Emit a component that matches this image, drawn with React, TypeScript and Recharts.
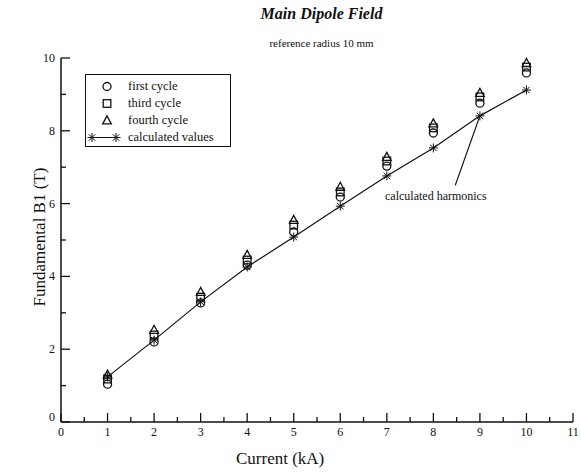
import {
  ComposedChart, Line, Scatter, XAxis, YAxis, Legend, ReferenceLine,
} from "recharts";

const currents = [1, 2, 3, 4, 5, 6, 7, 8, 9, 10];
const firstCycle = [1.04, 2.2, 3.27, 4.31, 5.22, 6.18, 7.03, 7.94, 8.76, 9.59];
const thirdCycle = [1.18, 2.39, 3.43, 4.45, 5.41, 6.32, 7.17, 8.08, 8.93, 9.75];
const fourthCycle = [1.3, 2.53, 3.57, 4.59, 5.55, 6.46, 7.28, 8.2, 9.04, 9.86];
const calculated = [1.24, 2.25, 3.3, 4.26, 5.08, 5.93, 6.76, 7.53, 8.41, 9.12];

const xTicks = [0, 0.5, 1, 1.5, 2, 2.5, 3, 3.5, 4, 4.5, 5, 5.5, 6, 6.5, 7, 7.5, 8, 8.5, 9, 9.5, 10, 10.5, 11];
const yTicks = [0, 1, 2, 3, 4, 5, 6, 7, 8, 9, 10];

const legendItems = [
  { key: "first", label: "first cycle" },
  { key: "third", label: "third cycle" },
  { key: "fourth", label: "fourth cycle" },
  { key: "calc", label: "calculated values" },
];

const W = 581;
const H = 474;
const PLOT_LEFT = 61;
const PLOT_BOTTOM = 422;
const FONT = "'Liberation Serif', 'DejaVu Serif', serif";
const INK = "#111";

const rows = currents.map((c, i) => ({
  current: c,
  first: firstCycle[i],
  third: thirdCycle[i],
  fourth: fourthCycle[i],
  calc: calculated[i],
}));

function circle(cx: number, cy: number) {
  return <circle cx={cx} cy={cy} r={4} fill="none" stroke={INK} strokeWidth={1.3} />;
}
function square(cx: number, cy: number) {
  return <rect x={cx - 3.8} y={cy - 3.8} width={7.6} height={7.6} fill="none" stroke={INK} strokeWidth={1.3} />;
}
function triangle(cx: number, cy: number) {
  return (
    <polygon points={`${cx},${cy - 4.6} ${cx - 4.3},${cy + 3.4} ${cx + 4.3},${cy + 3.4}`}
             fill="none" stroke={INK} strokeWidth={1.3} />
  );
}
function asterisk(cx: number, cy: number, r = 4.5) {
  const d = r * 0.72;
  return (
    <g stroke={INK} strokeWidth={1}>
      <line x1={cx - r} y1={cy} x2={cx + r} y2={cy} />
      <line x1={cx} y1={cy - r} x2={cx} y2={cy + r} />
      <line x1={cx - d} y1={cy - d} x2={cx + d} y2={cy + d} />
      <line x1={cx - d} y1={cy + d} x2={cx + d} y2={cy - d} />
    </g>
  );
}

const shapes: Record<string, (x: number, y: number) => any> = {
  first: circle,
  third: square,
  fourth: triangle,
};

function XTick(props: any) {
  const { x, payload } = props;
  const v = payload.value as number;
  const major = Number.isInteger(v);
  return (
    <g>
      <line x1={x} y1={PLOT_BOTTOM} x2={x} y2={PLOT_BOTTOM - (major ? 9 : 5)} stroke={INK} strokeWidth={1.3} />
      {major && (
        <text x={x} y={PLOT_BOTTOM + 14} textAnchor="middle" fontSize={12} fontFamily={FONT} fill={INK}>
          {v}
        </text>
      )}
    </g>
  );
}

function YTick(props: any) {
  const { y, payload } = props;
  const v = payload.value as number;
  const major = v % 2 === 0;
  return (
    <g>
      <line x1={PLOT_LEFT} y1={y} x2={PLOT_LEFT + (major ? 9 : 5)} y2={y} stroke={INK} strokeWidth={1.3} />
      {major && (
        <text x={PLOT_LEFT - 6} y={v === 0 ? y - 1 : y + 4} textAnchor="end" fontSize={12} fontFamily={FONT} fill={INK}>
          {v}
        </text>
      )}
    </g>
  );
}

function LegendBox() {
  return (
    <div style={{
      border: `1.5px solid ${INK}`, width: 146, height: 73, boxSizing: "border-box",
      padding: "3px 0 0 0", fontFamily: FONT, fontSize: 12.5, color: INK, background: "#fff",
    }}>
      {legendItems.map((it) => (
        <div key={it.key} style={{ display: "flex", alignItems: "center", height: 17 }}>
          <svg width={42} height={17} style={{ flex: "none" }}>
            {it.key === "calc" ? (
              <g>
                <line x1={6} y1={8.5} x2={30} y2={8.5} stroke={INK} />
                {asterisk(6, 8.5)}
                {asterisk(30, 8.5)}
              </g>
            ) : (
              shapes[it.key](21, 8.5)
            )}
          </svg>
          <span style={{ lineHeight: "17px" }}>{it.label}</span>
        </div>
      ))}
    </div>
  );
}

export default function App() {
  return (
    <div style={{ position: "absolute", left: 0, top: 0, width: W, height: H, background: "#fff", fontFamily: FONT }}>
      <div style={{ position: "absolute", left: 0, width: W, top: 5, textAlign: "center", paddingLeft: 62, boxSizing: "border-box",
                    fontSize: 16, fontWeight: "bold", fontStyle: "italic", color: INK }}>
        Main Dipole Field
      </div>
      <div style={{ position: "absolute", left: 0, width: W, top: 37, textAlign: "center", paddingLeft: 62, boxSizing: "border-box",
                    fontSize: 11, color: INK }}>
        reference radius 10 mm
      </div>
      <ComposedChart width={W} height={H} data={rows} margin={{ top: 58, right: 8, bottom: 22, left: 0 }}>
        <XAxis dataKey="current" type="number" domain={[0, 11]} ticks={xTicks} interval={0}
               tick={<XTick />} tickLine={false} axisLine={{ stroke: INK, strokeWidth: 1.5 }} height={30} />
        <YAxis type="number" domain={[0, 10]} ticks={yTicks} interval={0}
               tick={<YTick />} tickLine={false} axisLine={{ stroke: INK, strokeWidth: 1.5 }} width={61} />
        <XAxis xAxisId="top" orientation="top" type="number" domain={[0, 11]} height={0}
               tick={false} tickLine={false} axisLine={{ stroke: INK, strokeWidth: 1.5 }} />
        <YAxis yAxisId="right" orientation="right" type="number" domain={[0, 10]} width={0}
               tick={false} tickLine={false} axisLine={{ stroke: INK, strokeWidth: 1.5 }} />
        <ReferenceLine segment={[{ x: 8.47, y: 6.5 }, { x: 9, y: 8.41 }]} stroke={INK} strokeWidth={1.2}
                       ifOverflow="visible" />
        <Legend layout="vertical" align="center" verticalAlign="middle" content={<LegendBox />}
                wrapperStyle={{ left: 85, top: 74, width: 146, height: 73 }} />
        <Line dataKey="calc" stroke={INK} strokeWidth={1.2} isAnimationActive={false}
              dot={(p: any) => <g key={`c${p.index}`}>{asterisk(p.cx, p.cy)}</g>} activeDot={false} />
        <Scatter dataKey="first" isAnimationActive={false}
                 shape={(p: any) => circle(p.cx, p.cy)} />
        <Scatter dataKey="third" isAnimationActive={false}
                 shape={(p: any) => square(p.cx, p.cy)} />
        <Scatter dataKey="fourth" isAnimationActive={false}
                 shape={(p: any) => triangle(p.cx, p.cy)} />
      </ComposedChart>
      <div style={{ position: "absolute", left: 385, top: 189, fontSize: 12, color: INK }}>
        calculated harmonics
      </div>
      <div style={{ position: "absolute", left: 236, top: 449, fontSize: 17, color: INK }}>
        Current (kA)
      </div>
      <div style={{ position: "absolute", left: 40, top: 237, width: 0, height: 0 }}>
        <div style={{ position: "absolute", transform: "translate(-50%, -50%) rotate(-90deg)", whiteSpace: "nowrap",
                      fontSize: 17, color: INK }}>
          Fundamental B1 (T)
        </div>
      </div>
    </div>
  );
}
